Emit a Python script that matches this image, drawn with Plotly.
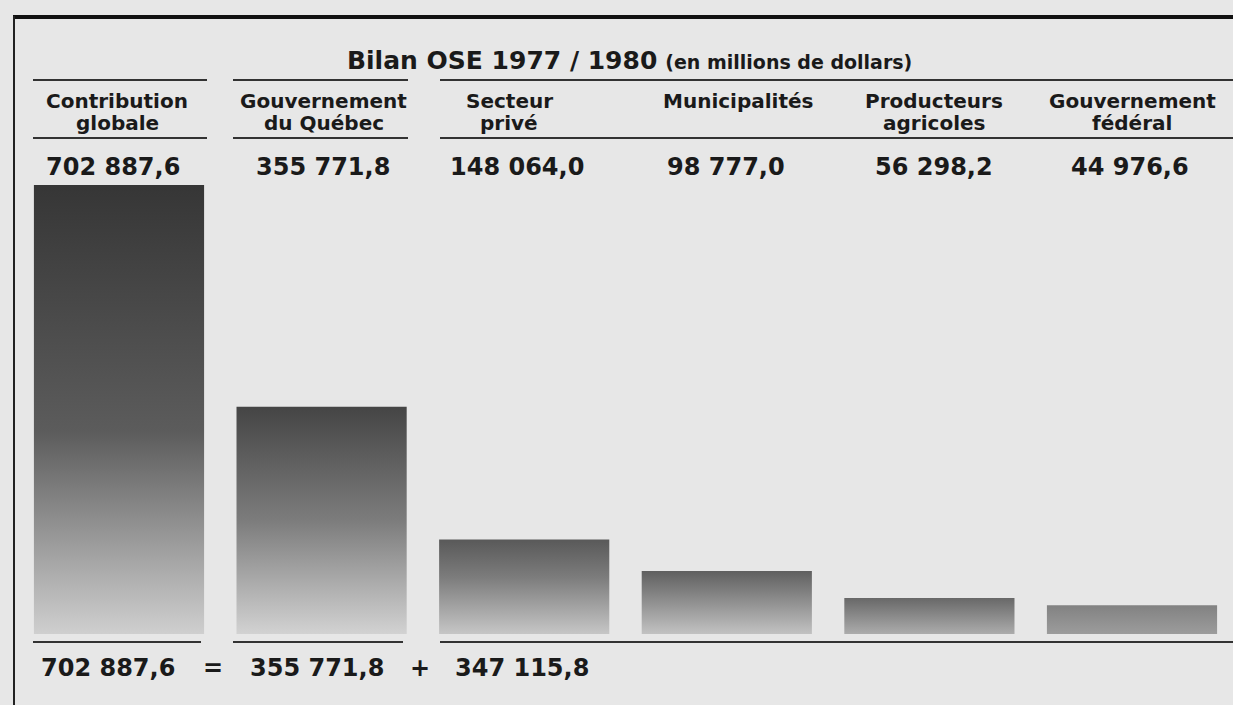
import plotly.graph_objects as go

# ---------------- data ----------------
labels_l1 = ["Contribution", "Gouvernement", "Secteur", "Municipalités", "Producteurs", "Gouvernement"]
labels_l2 = ["globale", "du Québec", "privé", "", "agricoles", "fédéral"]
values = [702887.6, 355771.8, 148064.0, 98777.0, 56298.2, 44976.6]
title_main = "Bilan OSE 1977 / 1980"
title_sub = "(en millions de dollars)"
total = values[0]
quebec = values[1]
rest = round(total - quebec, 1)

# ---------------- styles ----------------
W, H = 1233, 705
BG = "#e7e7e7"
INK = "#1a1a1a"
FONT = "DejaVu Sans"
bar_width = 0.84
bar_scales = [
    [[0, "#cfcfcf"], [0.45, "#5c5c5c"], [1, "#363636"]],
    [[0, "#d2d2d2"], [0.5, "#7c7c7c"], [1, "#454545"]],
    [[0, "#c6c6c6"], [0.6, "#7c7c7c"], [1, "#595959"]],
    [[0, "#c2c2c2"], [1, "#5f5f5f"]],
    [[0, "#acacac"], [1, "#686868"]],
    [[0, "#9c9c9c"], [1, "#828282"]],
]
label_xshift = [-2, 2, -15, 12, 5, 0]
value_xshift = [-6, 1, -7, -1, 5, -2]

# pixel geometry of the plot frame
x0_px, step_px = 119, 202.6          # centre of first bar, spacing
base_px, top_px = 634, 185           # baseline / top of tallest bar


def px(x):
    return x / W


def py(y):
    return 1 - y / H


def fr(v):
    return f"{v:,.1f}".replace(",", " ").replace(".", ",")


fig = go.Figure()

for i, v in enumerate(values):
    xl, xr = i - bar_width / 2, i + bar_width / 2
    fig.add_trace(go.Scatter(
        x=[xl, xr, xr, xl, xl],
        y=[0, 0, v, v, 0],
        mode="lines",
        line=dict(width=0, color="rgba(0,0,0,0)"),
        fill="toself",
        fillgradient=dict(type="vertical", colorscale=bar_scales[i]),
        hoverinfo="skip",
        showlegend=False,
    ))

k = max(values) / (base_px - top_px)
xr0 = -x0_px / step_px
xr1 = xr0 + W / step_px
fig.update_xaxes(range=[xr0, xr1], visible=False, domain=[0, 1], fixedrange=True)
fig.update_yaxes(range=[-(H - base_px) * k, base_px * k], visible=False, domain=[0, 1], fixedrange=True)

ann = []
# title
ann.append(dict(
    x=px(345), y=py(60), xref="paper", yref="paper", xanchor="left", yanchor="middle",
    text=f"<b>{title_main}</b> <b><span style='font-size:19px'>{title_sub}</span></b>",
    font=dict(family=FONT, size=25, color=INK), showarrow=False,
))
# headers
for i in range(len(values)):
    ann.append(dict(
        x=i, y=py(101), xref="x", yref="paper", xanchor="center", yanchor="middle",
        xshift=label_xshift[i],
        text=f"<b>{labels_l1[i]}</b>", font=dict(family=FONT, size=20, color=INK),
        showarrow=False,
    ))
    if labels_l2[i]:
        ann.append(dict(
            x=i, y=py(123), xref="x", yref="paper", xanchor="center", yanchor="middle",
            xshift=label_xshift[i],
            text=f"<b>{labels_l2[i]}</b>", font=dict(family=FONT, size=20, color=INK),
            showarrow=False,
        ))
    ann.append(dict(
        x=i, y=py(167), xref="x", yref="paper", xanchor="center", yanchor="middle",
        xshift=value_xshift[i],
        text=f"<b>{fr(values[i])}</b>", font=dict(family=FONT, size=24, color=INK),
        showarrow=False,
    ))

# bottom equation
eq_items = [(fr(total), 108), ("=", 213), (fr(quebec), 317), ("+", 420), (fr(rest), 522)]
for txt, xc in eq_items:
    ann.append(dict(
        x=px(xc), y=py(668), xref="paper", yref="paper", xanchor="center", yanchor="middle",
        text=f"<b>{txt}</b>", font=dict(family=FONT, size=24, color=INK), showarrow=False,
    ))

shapes = []
# frame
shapes.append(dict(type="line", xref="paper", yref="paper", x0=px(13), x1=1.0,
                   y0=py(17), y1=py(17), line=dict(color="#111", width=4)))
shapes.append(dict(type="line", xref="paper", yref="paper", x0=px(14), x1=px(14),
                   y0=py(16), y1=0, line=dict(color="#222", width=2)))
# rules
for ypix in (80, 138, 642):
    segs = [(33, 207), (233, 408), (440, W)] if ypix != 642 else [(33, 201), (233, 403), (440, W)]
    for a, b in segs:
        shapes.append(dict(type="line", xref="paper", yref="paper", x0=px(a), x1=px(b),
                           y0=py(ypix), y1=py(ypix), line=dict(color="#333", width=2)))

fig.update_layout(
    width=W, height=H,
    margin=dict(l=0, r=0, t=0, b=0),
    paper_bgcolor=BG, plot_bgcolor=BG,
    annotations=ann, shapes=shapes,
    showlegend=False,
)

fig.write_html(
    "out.html",
    config={"displayModeBar": False},
    post_script="document.body.style.margin='0';document.body.style.background='%s';document.body.style.overflow='hidden';" % BG,
)
